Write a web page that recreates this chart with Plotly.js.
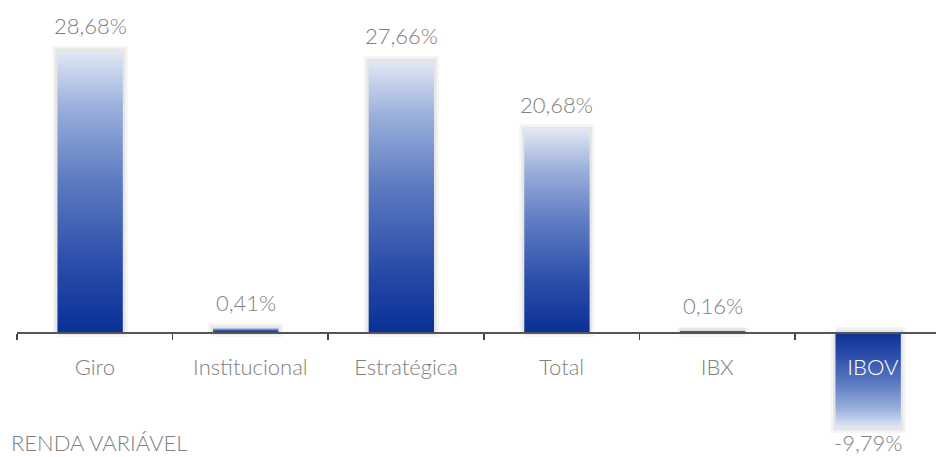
<!DOCTYPE html>
<html><head><meta charset="utf-8">
<script src="https://cdn.plot.ly/plotly-3.0.1.min.js"></script>
<style>html,body{margin:0;padding:0;background:#fff}#chart{width:936px;height:457px}</style>
</head><body><div id="chart"></div>
<script>
const categories = ['Giro', 'Institucional', 'Estratégica', 'Total', 'IBX', 'IBOV'];
const values = [28.68, 0.41, 27.66, 20.68, 0.16, -9.79];
const valueLabels = ['28,68%', '0,41%', '27,66%', '20,68%', '0,16%', '-9,79%'];
const footnote = 'RENDA VARIÁVEL';

const BAR_W = 0.42, SHIFT = -0.03;
const upScale = [[0, '#0a3097'], [0.25, '#2c4eab'], [0.55, '#5f7dc2'], [0.8, '#9aafdb'], [1, '#e2e8f5']];
const downScale = upScale.map(([p, c]) => [1 - p, c]).reverse();
const TXT = '#808080';
const FONT = 'Lato, "Open Sans", sans-serif';

const traces = [];
values.forEach((v, i) => {
  const x0 = i + SHIFT - BAR_W / 2, x1 = i + SHIFT + BAR_W / 2;
  const xs = [x0, x1, x1, x0, x0], ys = [0, 0, v, v, 0];
  const common = {type: 'scatter', mode: 'lines', x: xs, y: ys, hoverinfo: 'skip', showlegend: false};
  traces.push(Object.assign({}, common, {line: {color: 'rgba(0,0,0,0.04)', width: 10}}));
  traces.push(Object.assign({}, common, {line: {color: 'rgba(0,0,0,0.06)', width: 5}}));
  traces.push(Object.assign({}, common, {
    fill: 'toself',
    fillgradient: {type: 'vertical', colorscale: v >= 0 ? upScale : downScale},
    line: {width: 0, color: 'rgba(0,0,0,0)'}
  }));
});

const annotations = values.map((v, i) => ({
  x: i + SHIFT, y: v, xref: 'x', yref: 'y',
  text: valueLabels[i], showarrow: false,
  yanchor: 'middle', yshift: v >= 0 ? 25 : -15,
  font: {family: FONT, size: 22, weight: 300, color: TXT}
}));
annotations.push({
  xref: 'paper', yref: 'paper', x: -0.0087, y: 1 - 442 / 457,
  xanchor: 'left', yanchor: 'middle', showarrow: false,
  text: footnote, font: {family: FONT, size: 22, weight: 300, color: TXT}
});

const layout = {
  width: 936, height: 457,
  margin: {l: 17, r: 0, t: 0, b: 0},
  paper_bgcolor: '#ffffff', plot_bgcolor: '#ffffff',
  showlegend: false,
  xaxis: {
    type: 'linear', range: [-0.5, 5.406],
    anchor: 'free', position: 1 - 332 / 457,
    tickmode: 'array',
    tickvals: categories.map((c, i) => i),
    ticktext: categories.map((c, i) => values[i] < 0 ? '<span style="color:#ffffff">' + c + '</span>' : c),
    ticks: '', ticklabelstandoff: 15,
    minor: {ticks: 'outside', tickmode: 'array', tickvals: categories.map((c, i) => i - 0.5).concat([categories.length - 0.5]), ticklen: 6, tickwidth: 1.5, tickcolor: '#444', showgrid: false},
    showline: true, linecolor: '#555', linewidth: 1.5,
    showgrid: false, zeroline: false,
    tickfont: {family: FONT, size: 22, weight: 300, color: TXT},
    layer: 'above traces'
  },
  yaxis: {range: [-12.76, 33.88], visible: false, showgrid: false, zeroline: false},
  annotations: annotations
};

Plotly.newPlot('chart', traces, layout, {displayModeBar: false, staticPlot: true});
</script>
</body></html>
